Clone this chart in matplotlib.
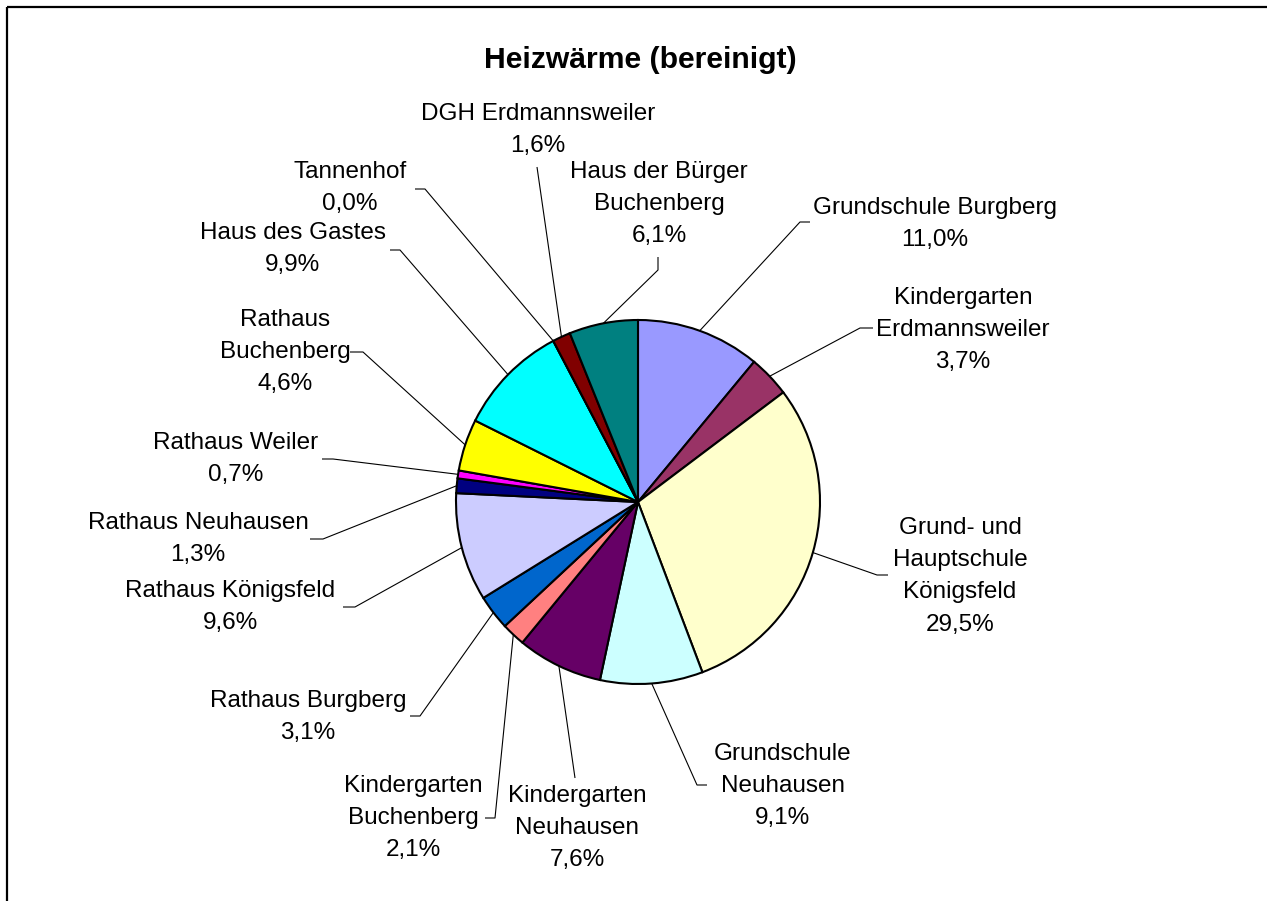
import matplotlib
matplotlib.use("Agg")
import matplotlib.pyplot as plt
import numpy as np

W, H = 1267, 901

title = "Heizwärme (bereinigt)"
categories = [
    "Grundschule Burgberg",
    "Kindergarten\nErdmannsweiler",
    "Grund- und\nHauptschule\nKönigsfeld",
    "Grundschule\nNeuhausen",
    "Kindergarten\nNeuhausen",
    "Kindergarten\nBuchenberg",
    "Rathaus Burgberg",
    "Rathaus Königsfeld",
    "Rathaus Neuhausen",
    "Rathaus Weiler",
    "Rathaus\nBuchenberg",
    "Haus des Gastes",
    "Tannenhof",
    "DGH Erdmannsweiler",
    "Haus der Bürger\nBuchenberg",
]
shares = [11.0, 3.7, 29.5, 9.1, 7.6, 2.1, 3.1, 9.6, 1.3, 0.7, 4.6, 9.9, 0.0, 1.6, 6.1]
colors = ["#9999FF", "#993366", "#FFFFCC", "#CCFFFF", "#660066", "#FF8080",
          "#0066CC", "#CCCCFF", "#000080", "#FF00FF", "#FFFF00", "#00FFFF",
          "#800080", "#800000", "#008080"]

# ---- layout (pixel coordinates, y measured from top) ----
label_pos = [  # (center x, first-line baseline y)
    (935, 215), (963, 305), (960, 535), (783, 761), (577, 803),
    (413, 793), (308, 708), (230, 598), (198, 530), (236, 450),
    (285, 327), (293, 240), (350, 179), (538, 121), (659, 179),
]
leader_pts = [  # points of leader line after the pie-edge point
    [(800, 222), (810, 222)],
    [(860, 328), (873, 328)],
    [(877, 575), (888, 575)],
    [(697, 785), (707, 785)],
    [(575, 778)],
    [(495, 818), (485, 818)],
    [(420, 716), (410, 716)],
    [(355, 607), (343, 607)],
    [(323, 539), (310, 539)],
    [(333, 459), (322, 459)],
    [(363, 352), (350, 352)],
    [(400, 250), (390, 250)],
    [(425, 189), (415, 189)],
    [(537, 167)],
    [(658, 270), (658, 257)],
]
pie_center = (638, 502)
pie_radius = 182
ascent_px = 18.0

FONT = "Liberation Sans"

fig = plt.figure(figsize=(W / 100, H / 100), dpi=100)
ax = fig.add_axes([0, 0, 1, 1])

cx, cy = pie_center[0], H - pie_center[1]
wedges, _ = ax.pie(shares, colors=colors, startangle=90, counterclock=False,
                   center=(cx, cy), radius=pie_radius, frame=True,
                   wedgeprops=dict(edgecolor="black", linewidth=1.5))
ax.set_xlim(0, W)
ax.set_ylim(0, H)
ax.set_aspect("equal")
ax.axis("off")

for w, name, val, (tx, ty), pts in zip(wedges, categories, shares, label_pos, leader_pts):
    mid = np.deg2rad((w.theta1 + w.theta2) / 2.0)
    ex = cx + pie_radius * np.cos(mid)
    ey = cy + pie_radius * np.sin(mid)
    xs = [ex] + [p[0] for p in pts]
    ys = [ey] + [H - p[1] for p in pts]
    ax.plot(xs, ys, color="black", lw=0.8, solid_capstyle="butt", zorder=1)
    pct = f"{val:.1f}%".replace(".", ",")
    ax.text(tx, H - (ty - ascent_px), f"{name}\n{pct}", ha="center", va="top",
            multialignment="center", fontsize=17.5, family=FONT,
            linespacing=1.6, color="black")

ax.text(640.5, H - 68, title, ha="center", va="baseline", fontsize=21.7,
        fontweight="bold", family=FONT)

# chart frame (top and left edges visible)
ax.plot([7, W], [H - 7, H - 7], color="black", lw=1.6, solid_capstyle="butt")
ax.plot([7, 7], [H - 7, 0], color="black", lw=1.6, solid_capstyle="butt")

fig.savefig("out.png", dpi=100, facecolor="white")
